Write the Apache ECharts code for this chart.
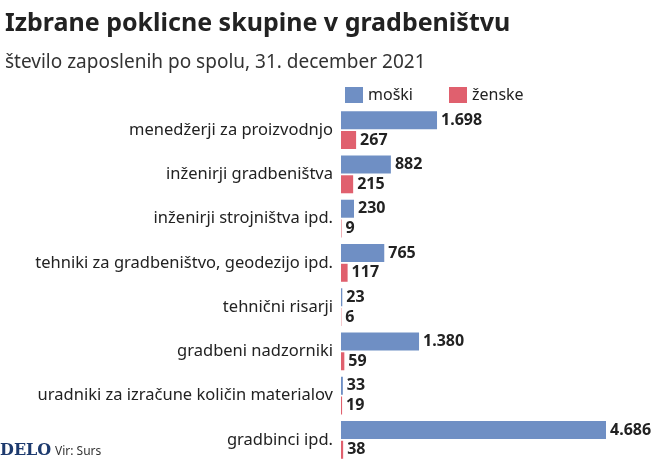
<!DOCTYPE html>
<html><head><meta charset="utf-8">
<script src="https://cdn.jsdelivr.net/npm/echarts@6/dist/echarts.min.js"></script>
<style>body{margin:0;background:#fff}#c{width:660px;height:472px}</style>
</head><body><div id="c"></div>
<script>
const categories = ["menedžerji za proizvodnjo","inženirji gradbeništva","inženirji strojništva ipd.","tehniki za gradbeništvo, geodezijo ipd.","tehnični risarji","gradbeni nadzorniki","uradniki za izračune količin materialov","gradbinci ipd."];
const moski = [1698,882,230,765,23,1380,33,4686];
const zenske = [267,215,9,117,6,59,19,38];
const fmt = v => String(v).replace(/\B(?=(\d{3})+(?!\d))/g, ".");
const lbl = {show:true,position:'right',distance:4,fontFamily:'Noto Sans',fontWeight:'bold',fontSize:16,color:'#222',formatter:p=>fmt(p.value)};
const chart = echarts.init(document.getElementById('c'));
chart.setOption({
  animation:false,
  title:[{text:'Izbrane poklicne skupine v gradbeništvu',left:0,top:6,textStyle:{fontFamily:'Noto Sans',fontWeight:'bold',fontSize:25,color:'#222'}},
         {text:'število zaposlenih po spolu, 31. december 2021',left:0,top:48,textStyle:{fontFamily:'Noto Sans',fontWeight:'normal',fontSize:19,color:'#333'}}],
  legend:{left:340,top:82,itemWidth:18,itemHeight:16,itemGap:36,icon:'rect',textStyle:{fontFamily:'Noto Sans',fontSize:16,color:'#222'},data:['moški','ženske']},
  graphic:[{type:'text',left:0,top:443,style:{text:'DELO',font:'bold 16px "DejaVu Serif"',fill:'#1d3a6e'}},
           {type:'text',left:55,top:446,style:{text:'Vir: Surs',font:'12px "Noto Sans"',fill:'#333'}}],
  grid:{left:341,width:265,top:108,height:354},
  xAxis:{type:'value',min:0,max:4686,show:false},
  yAxis:{type:'category',inverse:true,data:categories,axisLine:{show:false},axisTick:{show:false},
    axisLabel:{margin:8,fontFamily:'Noto Sans',fontSize:16.5,color:'#222'}},
  series:[
    {name:'moški',type:'bar',data:moski,barWidth:18,barGap:'10%',itemStyle:{color:'#6f8fc4'},label:lbl},
    {name:'ženske',type:'bar',data:zenske,barWidth:18,itemStyle:{color:'#e0606e'},label:lbl}
  ]
});
</script></body></html>
